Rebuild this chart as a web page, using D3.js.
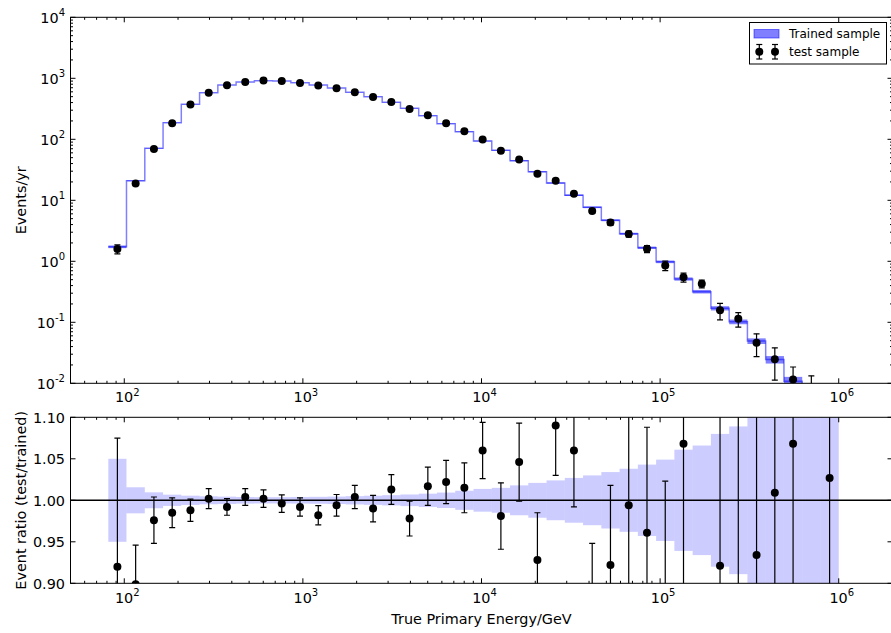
<!DOCTYPE html>
<html>
<head>
<meta charset="utf-8">
<script src="https://cdn.jsdelivr.net/npm/d3@7"></script>
<style>
  body { margin: 0; background: #fff; }
  svg text { font-family: "DejaVu Sans", sans-serif; fill: #000; }
</style>
</head>
<body>
<svg id="chart" width="891" height="633"></svg>
<script>
// histogram bin edges (GeV), log spaced, 40 bins
const binEdges = [81.4, 102.9, 130.3, 164.9, 208.6, 264.0, 334.1, 422.8, 535.0, 677.0,
    856.6, 1084, 1372, 1736, 2197, 2780, 3518, 4451, 5633, 7128,
    9020, 11414, 14444, 18278, 23130, 29270, 37039, 46870, 59311, 75055,
    94975, 120180, 152090, 192450, 243540, 308180, 389980, 493500, 624480, 790250, 1000000];

// trained sample, events/yr per bin
const trained = [1.73, 20.9, 71.2, 187, 375, 581, 776, 869, 914, 903,
    848, 776, 693, 589, 499, 404, 322, 244, 180, 133,
    93.7, 66, 44.6, 29.4, 19.2, 12.1, 7.67, 4.70, 2.83, 1.67,
    0.98, 0.513, 0.318, 0.170, 0.102, 0.0493, 0.0245, 0.0108, 0.0023, 0.0029];

// relative uncertainty of trained sample (band)
const trainedRelErr = [0.050, 0.0157, 0.0096, 0.0068, 0.0056, 0.0048, 0.0044, 0.0040, 0.0038, 0.0038,
    0.0040, 0.0042, 0.0045, 0.0050, 0.0055, 0.0062, 0.0070, 0.0080, 0.0093, 0.0115,
    0.0137, 0.015, 0.018, 0.021, 0.024, 0.027, 0.030, 0.034, 0.038, 0.043,
    0.049, 0.061, 0.066, 0.080, 0.089, 0.106, 0.14, 0.18, 0.25, 0.35];

// test sample, events/yr per bin
const test = [1.59, 18.8, 69.5, 184, 371, 582, 770, 872, 916, 899,
    841, 762, 689, 591, 494, 409, 315, 248, 184, 135,
    99.3, 64.7, 46.7, 27.3, 20.9, 12.8, 6.67, 4.33, 2.81, 1.60,
    0.853, 0.548, 0.429, 0.157, 0.114, 0.046, 0.0247, 0.0115, 0.008, 0.003];

// ratio test/trained and its error
const ratio = [0.920, 0.899, 0.976, 0.985, 0.988, 1.002, 0.992, 1.004, 1.002, 0.996,
    0.992, 0.982, 0.994, 1.004, 0.990, 1.013, 0.978, 1.017, 1.022, 1.015,
    1.060, 0.981, 1.046, 0.928, 1.090, 1.060, 0.870, 0.922, 0.994, 0.961,
    0.870, 1.068, 1.350, 0.921, 1.120, 0.934, 1.009, 1.068, 3.5, 1.027];
const ratioErr = [0.155, 0.047, 0.028, 0.018, 0.0135, 0.012, 0.010, 0.010, 0.0105, 0.0105,
    0.011, 0.0115, 0.013, 0.014, 0.016, 0.018, 0.021, 0.023, 0.026, 0.030,
    0.034, 0.040, 0.047, 0.057, 0.060, 0.068, 0.078, 0.096, 0.115, 0.127,
    0.153, 0.18, 0.20, 0.28, 0.30, 0.38, 0.55, 0.65, 2.3, 0.8];

const xMajor = [1e2, 1e3, 1e4, 1e5, 1e6];
const xExp = ["2", "3", "4", "5", "6"];
const yMajor = [1e-2, 1e-1, 1e0, 1e1, 1e2, 1e3, 1e4];
const yExp = ["-2", "-1", "0", "1", "2", "3", "4"];
const ratioTicks = [0.90, 0.95, 1.00, 1.05, 1.10];

const svg = d3.select("#chart");
const left = 70.5, right = 892.5;
const topT = 17.3, topB = 383.3, botT = 417.3, botB = 583.3;

const x = d3.scaleLog().domain([50, 2e6]).range([left, right]);
const yTop = d3.scaleLog().domain([1e-2, 1e4]).range([topB, topT]);
const yBot = d3.scaleLinear().domain([0.9, 1.1]).range([botB, botT]);

const bins = trained.map((t, i) => ({
    lo: binEdges[i], hi: binEdges[i + 1],
    c: Math.sqrt(binEdges[i] * binEdges[i + 1]),
    trained: t, rel: trainedRelErr[i], test: test[i],
    ratio: ratio[i], rerr: ratioErr[i]
}));

// clip paths for both panels
const defs = svg.append("defs");
defs.append("clipPath").attr("id", "clipTop").append("rect")
    .attr("x", left).attr("y", topT).attr("width", right - left).attr("height", topB - topT);
defs.append("clipPath").attr("id", "clipBot").append("rect")
    .attr("x", left).attr("y", botT).attr("width", right - left).attr("height", botB - botT);

// minor ticks helper for log axes
function logMinors(lo, hi) {
    const out = [];
    for (let d = 1; d <= 1e7; d *= 10) {
        for (let k = 2; k <= 9; k++) {
            const v = d * k * 1e-3;
            if (v >= lo * 0.999 && v <= hi * 1.001) out.push(v);
        }
    }
    return out;
}
const xMinor = logMinors(50, 2e6);
const yMinor = logMinors(1e-2, 1e4);

function tickLines(g, scale, vals, orient, pos, len) {
    g.selectAll(null).data(vals).enter().append("line")
        .attr("x1", d => orient === "h" ? scale(d) : pos)
        .attr("x2", d => orient === "h" ? scale(d) : pos + len)
        .attr("y1", d => orient === "h" ? pos : scale(d))
        .attr("y2", d => orient === "h" ? pos + len : scale(d))
        .attr("stroke", "#000").attr("stroke-width", 1);
}

function powLabel(sel, exp) {
    sel.append("tspan").text("10");
    sel.append("tspan").attr("font-size", 10).attr("dy", -6.5).text(exp);
}

// ---------- top panel ----------
const gTop = svg.append("g");
const topPlot = gTop.append("g").attr("clip-path", "url(#clipTop)");

// trained uncertainty band
topPlot.selectAll(".tband").data(bins).enter().append("rect")
    .attr("x", d => x(d.lo))
    .attr("width", d => x(d.hi) - x(d.lo))
    .attr("y", d => yTop(d.trained * (1 + d.rel)))
    .attr("height", d => yTop(Math.max(d.trained * (1 - d.rel), 1e-6)) - yTop(d.trained * (1 + d.rel)))
    .attr("fill", "#0000ff").attr("fill-opacity", 0.5);

// trained step line
const stepPts = bins.map(d => [x(d.lo), yTop(d.trained)]);
stepPts.push([x(bins[bins.length - 1].hi), yTop(bins[bins.length - 1].trained)]);
topPlot.append("path")
    .attr("d", d3.line().curve(d3.curveStepAfter)(stepPts))
    .attr("fill", "none").attr("stroke", "#0000ff").attr("stroke-opacity", 0.5).attr("stroke-width", 1.5);

// test sample error bars and markers
const tp = topPlot.selectAll(".tp").data(bins).enter().append("g");
tp.append("line")
    .attr("x1", d => x(d.c)).attr("x2", d => x(d.c))
    .attr("y1", d => yTop(d.test * (1 + d.rerr / d.ratio)))
    .attr("y2", d => yTop(Math.max(d.test * (1 - d.rerr / d.ratio), 1e-6)))
    .attr("stroke", "#000").attr("stroke-width", 1.2);
tp.append("line")
    .attr("x1", d => x(d.c) - 3).attr("x2", d => x(d.c) + 3)
    .attr("y1", d => yTop(d.test * (1 + d.rerr / d.ratio)))
    .attr("y2", d => yTop(d.test * (1 + d.rerr / d.ratio)))
    .attr("stroke", "#000").attr("stroke-width", 1.2);
tp.append("line")
    .attr("x1", d => x(d.c) - 3).attr("x2", d => x(d.c) + 3)
    .attr("y1", d => yTop(Math.max(d.test * (1 - d.rerr / d.ratio), 1e-6)))
    .attr("y2", d => yTop(Math.max(d.test * (1 - d.rerr / d.ratio), 1e-6)))
    .attr("stroke", "#000").attr("stroke-width", 1.2);
tp.append("circle")
    .attr("cx", d => x(d.c)).attr("cy", d => yTop(d.test)).attr("r", 4)
    .attr("fill", "#000");

// frame and ticks
gTop.append("rect").attr("x", left).attr("y", topT).attr("width", right - left).attr("height", topB - topT)
    .attr("fill", "none").attr("stroke", "#000").attr("stroke-width", 1);
tickLines(gTop, x, xMajor, "h", topB, -5);
tickLines(gTop, x, xMinor, "h", topB, -2.5);
tickLines(gTop, x, xMajor, "h", topT, 5);
tickLines(gTop, x, xMinor, "h", topT, 2.5);
tickLines(gTop, yTop, yMajor, "v", left, 5);
tickLines(gTop, yTop, yMinor, "v", left, 2.5);
tickLines(gTop, yTop, yMajor, "v", right, -5);
tickLines(gTop, yTop, yMinor, "v", right, -2.5);

gTop.selectAll(".ylab").data(yMajor).enter().append("text")
    .attr("x", 65).attr("y", d => yTop(d) + 5.5)
    .attr("text-anchor", "end").attr("font-size", 14.4)
    .each(function (d, i) { powLabel(d3.select(this), yExp[i]); });
gTop.selectAll(".xlab").data(xMajor).enter().append("text")
    .attr("x", d => x(d) + 3).attr("y", topB + 19)
    .attr("text-anchor", "middle").attr("font-size", 14.4)
    .each(function (d, i) { powLabel(d3.select(this), xExp[i]); });

gTop.append("text")
    .attr("transform", `translate(26, ${(topT + topB) / 2}) rotate(-90)`)
    .attr("text-anchor", "middle").attr("font-size", 14.4)
    .text("Events/yr");

// legend
const lg = gTop.append("g");
lg.append("rect").attr("x", 749.5).attr("y", 22.5).attr("width", 137).attr("height", 41.5)
    .attr("fill", "#fff").attr("stroke", "#000").attr("stroke-width", 1);
lg.append("rect").attr("x", 754).attr("y", 29.5).attr("width", 25).attr("height", 8.5)
    .attr("fill", "#0000ff").attr("fill-opacity", 0.5)
    .attr("stroke", "#0000ff").attr("stroke-opacity", 0.5);
lg.append("text").attr("x", 789).attr("y", 38).attr("font-size", 12).text("Trained sample");
[759.3, 775].forEach(cx => {
    lg.append("line").attr("x1", cx).attr("x2", cx).attr("y1", 44.5).attr("y2", 59)
        .attr("stroke", "#000").attr("stroke-width", 1.2);
    lg.append("line").attr("x1", cx - 3).attr("x2", cx + 3).attr("y1", 44.5).attr("y2", 44.5)
        .attr("stroke", "#000").attr("stroke-width", 1.2);
    lg.append("line").attr("x1", cx - 3).attr("x2", cx + 3).attr("y1", 59).attr("y2", 59)
        .attr("stroke", "#000").attr("stroke-width", 1.2);
    lg.append("circle").attr("cx", cx).attr("cy", 51.7).attr("r", 4).attr("fill", "#000");
});
lg.append("text").attr("x", 789).attr("y", 56).attr("font-size", 12).text("test sample");

// ---------- bottom panel ----------
const gBot = svg.append("g");
const botPlot = gBot.append("g").attr("clip-path", "url(#clipBot)");

botPlot.selectAll(".rband").data(bins).enter().append("rect")
    .attr("x", d => x(d.lo))
    .attr("width", d => x(d.hi) - x(d.lo))
    .attr("y", d => yBot(1 + d.rel))
    .attr("height", d => yBot(1 - d.rel) - yBot(1 + d.rel))
    .attr("fill", "#0000ff").attr("fill-opacity", 0.2);

botPlot.append("line")
    .attr("x1", left).attr("x2", right).attr("y1", yBot(1)).attr("y2", yBot(1))
    .attr("stroke", "#000").attr("stroke-width", 1.5);

const rp = botPlot.selectAll(".rp").data(bins).enter().append("g");
rp.append("line")
    .attr("x1", d => x(d.c)).attr("x2", d => x(d.c))
    .attr("y1", d => yBot(d.ratio + d.rerr)).attr("y2", d => yBot(d.ratio - d.rerr))
    .attr("stroke", "#000").attr("stroke-width", 1.2);
rp.append("line")
    .attr("x1", d => x(d.c) - 3).attr("x2", d => x(d.c) + 3)
    .attr("y1", d => yBot(d.ratio + d.rerr)).attr("y2", d => yBot(d.ratio + d.rerr))
    .attr("stroke", "#000").attr("stroke-width", 1.2);
rp.append("line")
    .attr("x1", d => x(d.c) - 3).attr("x2", d => x(d.c) + 3)
    .attr("y1", d => yBot(d.ratio - d.rerr)).attr("y2", d => yBot(d.ratio - d.rerr))
    .attr("stroke", "#000").attr("stroke-width", 1.2);
rp.append("circle")
    .attr("cx", d => x(d.c)).attr("cy", d => yBot(d.ratio)).attr("r", 4)
    .attr("fill", "#000");

gBot.append("rect").attr("x", left).attr("y", botT).attr("width", right - left).attr("height", botB - botT)
    .attr("fill", "none").attr("stroke", "#000").attr("stroke-width", 1);
tickLines(gBot, x, xMajor, "h", botB, -5);
tickLines(gBot, x, xMinor, "h", botB, -2.5);
tickLines(gBot, x, xMajor, "h", botT, 5);
tickLines(gBot, x, xMinor, "h", botT, 2.5);
tickLines(gBot, yBot, ratioTicks, "v", left, 5);
tickLines(gBot, yBot, ratioTicks, "v", right, -5);

gBot.selectAll(".rlab").data(ratioTicks).enter().append("text")
    .attr("x", 65).attr("y", d => yBot(d) + 5.5)
    .attr("text-anchor", "end").attr("font-size", 14.4)
    .text(d => d.toFixed(2));
gBot.selectAll(".xlab").data(xMajor).enter().append("text")
    .attr("x", d => x(d) + 3).attr("y", botB + 19.5)
    .attr("text-anchor", "middle").attr("font-size", 14.4)
    .each(function (d, i) { powLabel(d3.select(this), xExp[i]); });

gBot.append("text")
    .attr("transform", `translate(26, ${(botT + botB) / 2}) rotate(-90)`)
    .attr("text-anchor", "middle").attr("font-size", 14.4)
    .text("Event ratio (test/trained)");
gBot.append("text")
    .attr("x", (left + right) / 2).attr("y", 623.5)
    .attr("text-anchor", "middle").attr("font-size", 14.4)
    .text("True Primary Energy/GeV");
</script>
</body>
</html>
